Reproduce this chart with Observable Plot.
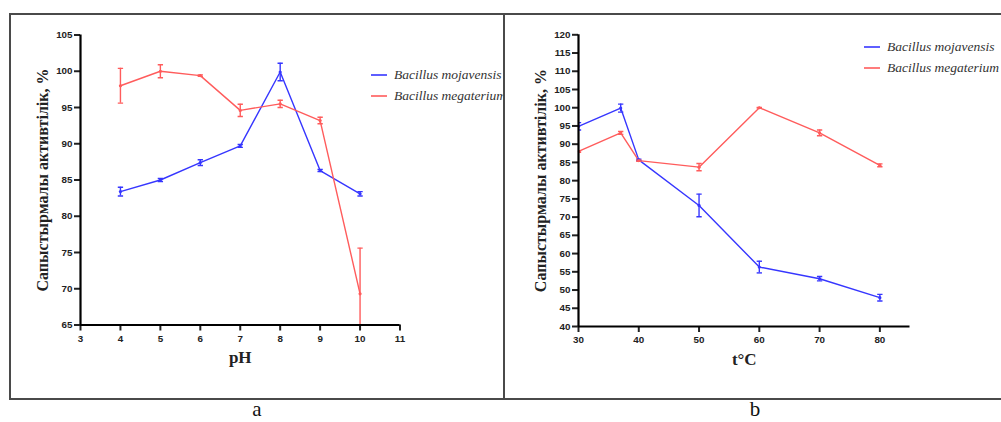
<!DOCTYPE html>
<html>
<head>
<meta charset="utf-8">
<script src="https://cdn.jsdelivr.net/npm/d3@7"></script>
<script src="https://cdn.jsdelivr.net/npm/@observablehq/plot@0.6"></script>
<style>
  html, body { margin: 0; padding: 0; background: #fff; }
  #root { position: relative; width: 1001px; height: 422px; overflow: hidden; background: #fff; }
  .box { position: absolute; left: 9px; top: 13px; width: 1000px; height: 383px; border: 2px solid #4a4a4a; border-right: none; }
  .divider { position: absolute; left: 503px; top: 13px; width: 2px; height: 387px; background: #4a4a4a; }
  .panel { position: absolute; top: 0; height: 422px; overflow: hidden; }
  .caption { position: absolute; top: 397px; font-family: "Liberation Serif", serif; font-size: 21px; color: #111; transform: translateX(-50%); }
  .legend { position: absolute; font-family: "Liberation Serif", serif; font-style: italic; font-size: 13.5px; color: #333; white-space: nowrap; }
  .legend .row { position: absolute; left: 0; height: 16px; display: flex; align-items: center; }
  .legend svg { margin-right: 7px; }
</style>
</head>
<body>
<div id="root">
  <div class="box"></div>
  <div class="divider"></div>
  <div class="panel" id="pa" style="left:0;width:503px"></div>
  <div class="panel" id="pb" style="left:505px;width:496px"></div>
  <div class="caption" style="left:257px">a</div>
  <div class="caption" style="left:755px">b</div>
</div>
<script>
// ---- Data ----
const seriesNames = ["Bacillus mojavensis", "Bacillus megaterium"];
const seriesColors = ["#3636ff", "#ff5c5c"];

const pH = [4, 5, 6, 7, 8, 9, 10];
const phMojavensis = [83.4, 85.0, 87.4, 89.7, 99.9, 86.3, 83.1];
const phMojavensisErr = [0.6, 0.2, 0.4, 0.2, 1.2, 0.15, 0.3];
const phMegaterium = [98.0, 100.0, 99.4, 94.6, 95.5, 93.2, 69.3];
const phMegateriumErr = [2.4, 0.9, 0.1, 0.85, 0.5, 0.45, 6.3];

const temp = [30, 37, 40, 50, 60, 70, 80];
const tMojavensis = [94.9, 99.9, 85.7, 73.2, 56.3, 53.1, 47.9];
const tMojavensisErr = [1.0, 1.1, 0.2, 3.1, 1.6, 0.6, 0.9];
const tMegaterium = [88.0, 93.1, 85.5, 83.7, 100.0, 93.1, 84.2];
const tMegateriumErr = [0.2, 0.4, 0.2, 1.0, 0.1, 0.8, 0.4];

const phXTicks = [3, 4, 5, 6, 7, 8, 9, 10, 11];
const phYTicks = [65, 70, 75, 80, 85, 90, 95, 100, 105];
const tXTicks = [30, 40, 50, 60, 70, 80];
const tYTicks = [40, 45, 50, 55, 60, 65, 70, 75, 80, 85, 90, 95, 100, 105, 110, 115, 120];

const yTitle = "Сапыстырмалы активтілік, %";

// ---- Helpers ----
function rows(xs, a, ae, b, be) {
  const out = [];
  xs.forEach((x, i) => {
    out.push({x, y: a[i], e: ae[i], s: seriesNames[0]});
    out.push({x, y: b[i], e: be[i], s: seriesNames[1]});
  });
  return out;
}
const cap = {draw(ctx, size) { const w = Math.sqrt(size); ctx.moveTo(-w, 0); ctx.lineTo(w, 0); }};

function panel({data, xDomain, yDomain, xTicks, yTicks, xLabel, width, margins}) {
  const color = {domain: seriesNames, range: seriesColors};
  return Plot.plot({
    width, height: 422,
    ...margins,
    x: {domain: xDomain},
    y: {domain: yDomain},
    color,
    style: {fontFamily: "'Liberation Sans', Arial, sans-serif", fontSize: "9.8px", fontWeight: "bold", color: "#222", background: "transparent"},
    marks: [
      Plot.line(data, {x: "x", y: "y", z: "s", stroke: "s", strokeWidth: 1.4}),
      Plot.ruleX(data, {x: "x", y1: d => d.y - d.e, y2: d => d.y + d.e, stroke: "s", strokeWidth: 1.4, clip: true}),
      Plot.dot(data, {x: "x", y: d => d.y - d.e, symbol: cap, r: 1.5, stroke: "s", fill: "none", strokeWidth: 1.4, clip: true}),
      Plot.dot(data, {x: "x", y: d => d.y + d.e, symbol: cap, r: 1.5, stroke: "s", fill: "none", strokeWidth: 1.4, clip: true}),
      Plot.dot(data, {x: "x", y: "y", r: 1.6, fill: "s", clip: true}),
      Plot.axisY({ticks: yTicks, tickSize: 6, tickPadding: 2, strokeWidth: 2, label: null, tickFormat: d => String(d)}),
      Plot.axisX({ticks: xTicks, tickSize: 6, tickPadding: 4, strokeWidth: 2, label: null, tickFormat: d => String(d)}),
      Plot.ruleX([xDomain[0]], {stroke: "#000", strokeWidth: 2.2}),
      Plot.ruleY([yDomain[0]], {stroke: "#000", strokeWidth: 2.2}),
      Plot.text([yTitle], {text: d => d, frameAnchor: "left", textAnchor: "middle", rotate: -90, dx: -38, fontFamily: "'Liberation Serif', serif", fontSize: 16, fontWeight: "bold", fill: "#222"}),
      Plot.text([xLabel], {text: d => d, frameAnchor: "bottom", dy: 38, fontFamily: "'Liberation Serif', serif", fontSize: 17, fontWeight: "bold", fill: "#222"})
    ]
  });
}

function legend(el, left, top, gap) {
  const lg = document.createElement("div");
  lg.className = "legend";
  lg.style.left = left + "px";
  lg.style.top = top + "px";
  seriesNames.forEach((n, i) => {
    const r = document.createElement("div");
    r.className = "row";
    r.style.top = (i * gap) + "px";
    r.innerHTML = `<svg width="16" height="4"><line x1="0" x2="16" y1="2" y2="2" stroke="${seriesColors[i]}" stroke-width="1.6"/></svg><span>${n}</span>`;
    lg.appendChild(r);
  });
  el.appendChild(lg);
}

const pa = document.getElementById("pa");
pa.appendChild(panel({
  data: rows(pH, phMojavensis, phMojavensisErr, phMegaterium, phMegateriumErr),
  xDomain: [3, 11], yDomain: [65, 105], xTicks: phXTicks, yTicks: phYTicks, xLabel: "pH",
  width: 503,
  margins: {marginLeft: 80, marginRight: 103.5, marginTop: 34.5, marginBottom: 97.5}
}));
legend(pa, 371, 67, 21);

const pb = document.getElementById("pb");
pb.appendChild(panel({
  data: rows(temp, tMojavensis, tMojavensisErr, tMegaterium, tMegateriumErr),
  xDomain: [30, 85], yDomain: [40, 120], xTicks: tXTicks, yTicks: tYTicks, xLabel: "t°C",
  width: 496,
  margins: {marginLeft: 73, marginRight: 91.5, marginTop: 34.3, marginBottom: 96}
}));
legend(pb, 864 - 505, 39, 21);
</script>
</body>
</html>
